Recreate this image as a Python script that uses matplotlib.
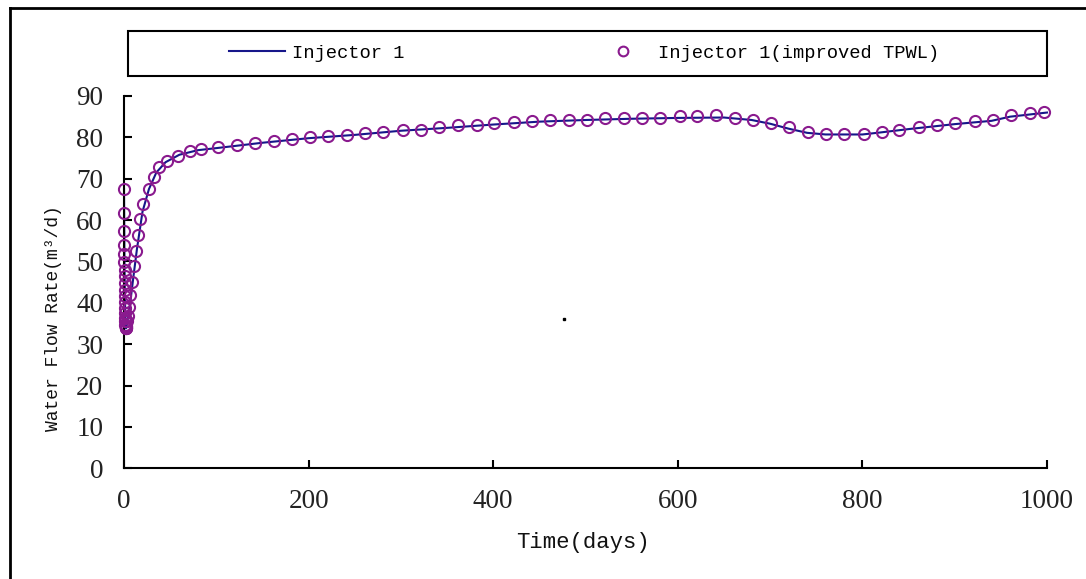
import numpy as np
import matplotlib
matplotlib.use("Agg")
import matplotlib.pyplot as plt
from matplotlib.lines import Line2D
from matplotlib.patches import Rectangle

plt.rcParams['font.family'] = ['Liberation Serif', 'DejaVu Serif']
MONO = ['Liberation Mono', 'DejaVu Sans Mono']

# reference simulation (line)
line_time = [0, 0.5, 1.0, 1.5, 2.0, 2.5, 4, 7, 10, 14, 20, 27, 35, 45, 60, 80,
             100, 150, 200, 250, 300, 350, 400, 450, 500, 550, 600, 650, 680,
             700, 720, 740, 760, 800, 820, 850, 900, 940, 960, 1000]
line_rate = [67.5, 49.5, 41.5, 35.5, 33.8, 34.0, 36.0, 40.5, 46.0, 53.0, 62.0,
             67.5, 71.5, 74.0, 75.8, 76.9, 77.4, 78.7, 79.8, 80.6, 81.6, 82.3,
             83.1, 83.8, 84.2, 84.5, 84.7, 84.8, 84.2, 83.3, 82.1, 81.1, 80.7,
             80.7, 81.2, 82.0, 83.2, 84.0, 85.0, 86.0]

# improved TPWL (markers)
tpwl_time = [0, 0.1, 0.2, 0.3, 0.4, 0.5, 0.6, 0.7, 0.8, 0.9, 1.0, 1.1, 1.2,
             1.3, 1.4, 1.5, 1.6, 1.7, 1.8, 1.9, 2.0, 2.2, 2.5, 3.0, 4.0, 5.5,
             7.0, 8.5, 10.5, 13, 15, 17, 21, 27, 32, 38, 47, 58, 71, 83,
             102, 122, 142, 163, 182, 202, 221, 242, 261, 281, 302, 322, 341,
             362, 382, 401, 422, 442, 461, 482, 502, 521, 542, 561, 581, 602,
             621, 641, 662, 681, 701, 720, 741, 761, 780, 802, 821, 840, 861,
             881, 900, 922, 941, 961, 982, 997]
tpwl_rate = [67.6, 61.6, 57.3, 54.1, 51.7, 49.8, 48.0, 46.4, 44.8, 43.2, 41.6,
             40.1, 38.7, 37.5, 36.3, 35.5, 34.7, 34.3, 34.0, 33.8, 33.9, 34.2,
             34.5, 35.5, 36.8, 39.0, 42.0, 45.0, 48.8, 52.6, 56.5, 60.3, 64.0,
             67.4, 70.4, 72.8, 74.3, 75.6, 76.6, 77.1,
             77.6, 78.1, 78.7, 79.1, 79.6, 80.0, 80.4, 80.5, 81.0, 81.4, 81.9,
             81.9, 82.4, 82.9, 83.0, 83.4, 83.8, 83.9, 84.3, 84.3, 84.3, 84.7,
             84.7, 84.7, 84.7, 85.2, 85.2, 85.3, 84.7, 84.3, 83.4, 82.4, 81.4,
             80.9, 80.9, 80.9, 81.4, 81.9, 82.4, 82.9, 83.4, 83.9, 84.3, 85.3,
             85.8, 86.2]

stray_time = [477]
stray_rate = [36.1]

line_color = '#16168a'
mark_color = '#8a1a8e'

fig = plt.figure(figsize=(10.86, 5.79), dpi=100)
ax = fig.add_axes([0.1142, 0.1912, 0.8499, 0.6430])

ax.plot(line_time, line_rate, color=line_color, lw=1.5, clip_on=False, zorder=2)
ax.plot(tpwl_time, tpwl_rate, 'o', ms=8, mfc='none', mec=mark_color, mew=1.5,
        clip_on=False, zorder=3)
ax.plot(stray_time, stray_rate, 's', ms=2.0, color='black')

ax.set_xlim(0, 1000)
ax.set_ylim(0, 90)
ax.set_xticks(np.arange(0, 1001, 200))
ax.set_yticks(np.arange(0, 91, 10))
for s in ['top', 'right']:
    ax.spines[s].set_visible(False)
for s in ['left', 'bottom']:
    ax.spines[s].set_linewidth(1.5)
ax.tick_params(direction='in', length=6, width=1.5, pad=15, labelsize=19.5,
               colors='black')
for lab in ax.get_xticklabels() + ax.get_yticklabels():
    lab.set_color('#222222')

ax.set_xlabel('Time(days)', fontsize=16, family=MONO, color='#111111')
ax.set_ylabel('Water Flow Rate(m³/d)', fontsize=13, family=MONO,
              color='#111111')
ax.xaxis.set_label_coords(0.497, -0.172)
ax.yaxis.set_label_coords(-0.067, 0.404)

# legend
handles = [Line2D([], [], color=line_color, lw=1.5),
           Line2D([], [], ls='none', marker='o', ms=7, mfc='none',
                  mec=mark_color, mew=1.5)]
fig.legend(handles, ['Injector 1', 'Injector 1(improved TPWL)'],
           loc='center', bbox_to_anchor=(584 / 1086, 1 - 53 / 579),
           frameon=False, ncol=2, prop={'family': MONO, 'size': 13.5},
           handlelength=3.0, handletextpad=0.35, columnspacing=10.2)
fig.add_artist(Rectangle((128 / 1086, 1 - 76 / 579), 919 / 1086, 45 / 579,
                         transform=fig.transFigure, fill=False, lw=1.5,
                         ec='black'))

# outer frame
fig.add_artist(Line2D([10 / 1086, 10 / 1086], [0, 1 - 8 / 579],
                      transform=fig.transFigure, color='black', lw=2))
fig.add_artist(Line2D([10 / 1086, 1], [1 - 8 / 579, 1 - 8 / 579],
                      transform=fig.transFigure, color='black', lw=2))

fig.savefig('out.png', dpi=100)
